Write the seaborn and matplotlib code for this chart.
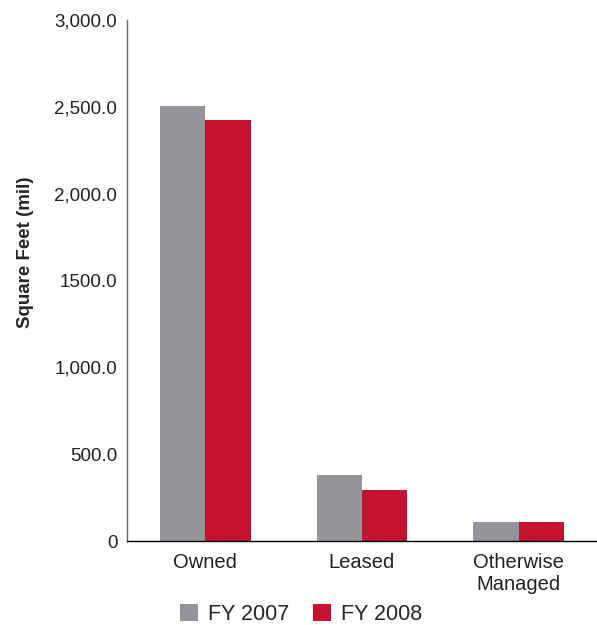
import pandas as pd
import seaborn as sns
import matplotlib.pyplot as plt
from matplotlib.ticker import FixedLocator

categories = ["Owned", "Leased", "Otherwise\nManaged"]
fy2007 = [2505, 380, 109]
fy2008 = [2424, 294, 109]
years = ["FY 2007", "FY 2008"]
ytick_vals = [0, 500, 1000, 1500, 2000, 2500, 3000]
ytick_labels = ["0", "500.0", "1,000.0", "1500.0", "2,000.0", "2,500.0", "3,000.0"]

df = pd.DataFrame({
    "category": categories * 2,
    "year": [years[0]] * 3 + [years[1]] * 3,
    "value": fy2007 + fy2008,
})

sns.set_style("white")
plt.rcParams["font.family"] = ["Liberation Sans", "DejaVu Sans"]

fig = plt.figure(figsize=(5.97, 6.25), dpi=100)
ax = fig.add_axes([0.2127, 0.1344, 0.7873, 0.8336])

sns.barplot(data=df, x="category", y="value", hue="year",
            palette=["#939598", "#C41230"], width=0.58, saturation=1,
            linewidth=0, ax=ax, legend=True)

ax.set_xlim(-0.5, 2.5)
ax.set_ylim(0, 3000)
ax.set_yticks(ytick_vals)
ax.set_yticklabels(ytick_labels, fontsize=13.5, color="#222222")
ax.tick_params(axis="y", length=4, width=1, color="#555555", direction="out", pad=3)
ax.tick_params(axis="x", which="major", length=0, labelsize=14.5, pad=9)
ax.xaxis.set_minor_locator(FixedLocator([-0.5, 0.5, 1.5]))
ax.tick_params(axis="x", which="minor", length=6, width=1, color="#777777", direction="out")
for lbl in ax.get_xticklabels():
    lbl.set_verticalalignment("top")
    lbl.set_linespacing(1.2)
    lbl.set_color("#222222")

ax.set_xlabel("")
ax.set_ylabel("Square Feet (mil)", fontsize=13.5, fontweight="bold")
ax.yaxis.set_label_coords(-0.198, 0.555)

sns.despine(ax=ax, top=True, right=True)
ax.spines["left"].set_color("#666666")
ax.spines["left"].set_linewidth(1)
ax.spines["bottom"].set_color("black")
ax.spines["bottom"].set_linewidth(1)

handles, labels = ax.get_legend_handles_labels()
ax.get_legend().remove()
fig.legend(handles, labels, loc="center", bbox_to_anchor=(0.505, 0.017), ncol=2,
           frameon=False, fontsize=15.5, handlelength=0.8, handleheight=0.8,
           columnspacing=1.1, handletextpad=0.5)

fig.savefig("out.png", dpi=100)
